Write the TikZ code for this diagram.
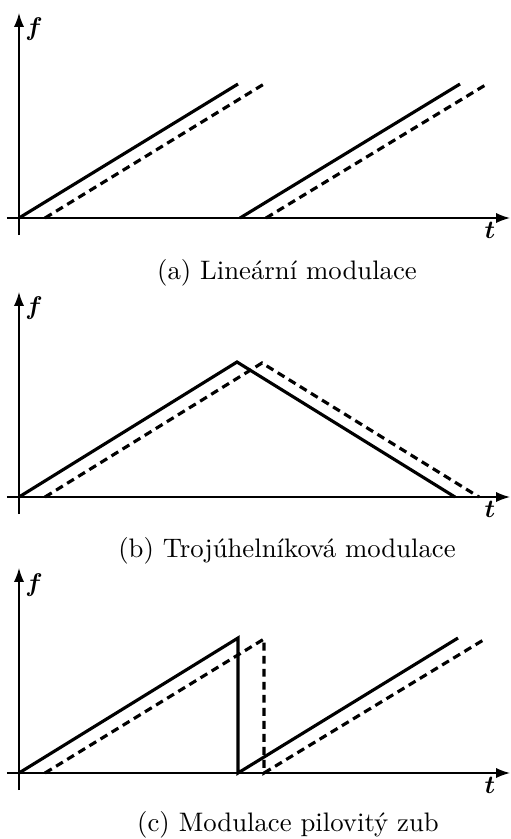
\documentclass[tikz,border=0pt]{standalone}
\usepackage{bm}
\usetikzlibrary{arrows.meta}
\begin{document}
\begin{tikzpicture}[x=0.43pt,y=-0.43pt,
  axis/.style={line width=0.65pt,-{Latex[length=6pt,width=4.4pt]}},
  sol/.style={line width=1.35pt},
  dsh/.style={line width=1.35pt,dash pattern=on 3.4pt off 2.2pt},
  lab/.style={inner sep=0pt,scale=1.1},
  captext/.style={font=\normalsize,scale=1.15}]
\useasboundingbox (0,0) rectangle (510,839);
% panel a
\draw[axis] (19,235) -- (19,13);
\draw[axis] (7,218) -- (510,218);
\node[lab] (af) at (34,29) {$\bm{f}$};
\node[lab] (at) at (490,230) {$\bm{t}$};
\draw[sol] (19,218) -- (238,84);
\draw[dsh] (45,218) -- (264,84);
\draw[sol] (240,218) -- (460,84);
\draw[dsh] (266,218) -- (487,84);
\node[captext] (ca) at (287,273) {(a) Lineární modulace};
% panel b
\draw[axis] (19,514) -- (19,292);
\draw[axis] (7,497) -- (510,497);
\node[lab] (bf) at (34,308) {$\bm{f}$};
\node[lab] (bt) at (490,509) {$\bm{t}$};
\draw[sol] (19,497) -- (237,362) -- (455,497);
\draw[dsh] (45,497) -- (262,363) -- (479,497);
\node[captext] (cb) at (287,551) {(b) Trojúhelníková modulace};
% panel c
\draw[axis] (19,790) -- (19,568);
\draw[axis] (7,773) -- (510,773);
\node[lab] (cf) at (34,585) {$\bm{f}$};
\node[lab] (ct) at (490,785) {$\bm{t}$};
\draw[sol] (19,773) -- (238,638) -- (238,773) -- (458,638);
\draw[dsh] (45,773) -- (264,639) -- (264,773) -- (485,639);
\node[captext] (cc) at (288,825) {(c) Modulace pilovitý zub};
\end{tikzpicture}
\end{document}
